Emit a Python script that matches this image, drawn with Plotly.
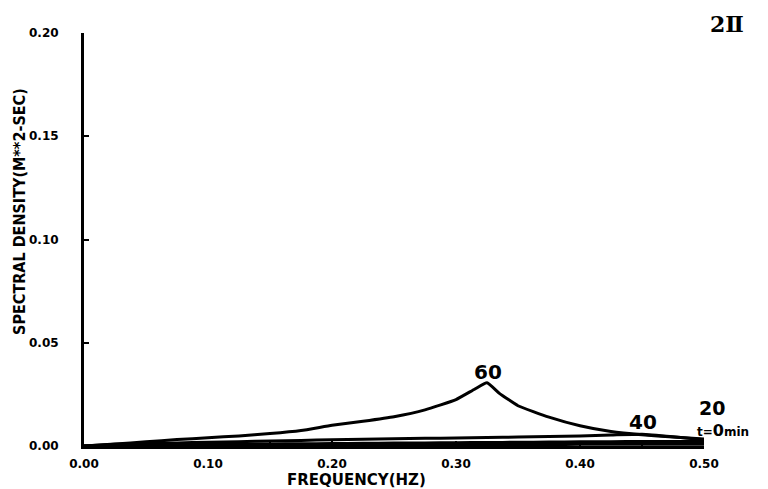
import plotly.graph_objects as go

freq60 = [0.000, 0.025, 0.050, 0.075, 0.100, 0.125, 0.150, 0.175, 0.200, 0.225, 0.250,
          0.275, 0.300, 0.315, 0.325, 0.335, 0.350, 0.375, 0.400, 0.425, 0.450, 0.475, 0.500]
s60 = [0.0000, 0.0010, 0.0020, 0.0031, 0.0040, 0.0049, 0.0060, 0.0075, 0.0100, 0.0120, 0.0142,
       0.0175, 0.0225, 0.0275, 0.0306, 0.0255, 0.0195, 0.0140, 0.0098, 0.0070, 0.0054, 0.0043, 0.0034]

freq = [0.000, 0.025, 0.050, 0.075, 0.100, 0.125, 0.150, 0.175, 0.200, 0.225, 0.250,
        0.275, 0.300, 0.325, 0.350, 0.375, 0.400, 0.425, 0.450, 0.475, 0.500]
s40 = [0.0000, 0.0008, 0.0012, 0.0015, 0.0018, 0.0021, 0.0024, 0.0027, 0.0030, 0.0033, 0.0035,
       0.0037, 0.0039, 0.0041, 0.0043, 0.0046, 0.0049, 0.0053, 0.0057, 0.0045, 0.0030]
s20 = [0.0000, 0.0004, 0.0006, 0.0007, 0.0008, 0.0009, 0.0010, 0.0011, 0.0012, 0.0013, 0.0014,
       0.0015, 0.0016, 0.0017, 0.0018, 0.0019, 0.0020, 0.0021, 0.0022, 0.0022, 0.0022]
s0 = [0.0000, 0.0002, 0.0003, 0.0003, 0.0004, 0.0004, 0.0004, 0.0005, 0.0005, 0.0005, 0.0006,
      0.0006, 0.0006, 0.0007, 0.0007, 0.0007, 0.0008, 0.0008, 0.0008, 0.0008, 0.0008]

series = [("60", freq60, s60), ("40", freq, s40), ("20", freq, s20), ("t=0min", freq, s0)]

x_ticks = [0.0, 0.1, 0.2, 0.3, 0.4, 0.5]
x_ticklabels = ["0.00", "0.10", "0.20", "0.30", "0.40", "0.50"]
y_ticks = [0.0, 0.05, 0.10, 0.15, 0.20]
y_ticklabels = ["0.00", "0.05", "0.10", "0.15", "0.20"]

fig = go.Figure()
for name, xs, vals in series:
    fig.add_trace(go.Scatter(x=xs, y=vals, mode="lines", name=name,
                             line=dict(color="black", width=3, shape="spline", smoothing=0.4),
                             showlegend=False))

tickfont = dict(family="DejaVu Sans", size=12, color="black")
fig.update_xaxes(range=[0, 0.5], tickvals=x_ticks, ticktext=[f"<b>{t}</b>" for t in x_ticklabels],
                 showline=True, linecolor="black", linewidth=3, ticks="inside", ticklen=5,
                 tickwidth=2, tickcolor="black", showgrid=False, zeroline=False,
                 minor=dict(tickvals=[0.05, 0.15, 0.25, 0.35, 0.45], ticks="inside", ticklen=4,
                            tickwidth=2, tickcolor="black"),
                 tickfont=tickfont, ticklabelstandoff=5, automargin=False)
fig.update_yaxes(range=[0, 0.2], tickvals=y_ticks, ticktext=[f"<b>{t}</b>" for t in y_ticklabels],
                 showline=True, linecolor="black", linewidth=3, ticks="inside", ticklen=5,
                 tickwidth=2, tickcolor="black", showgrid=False, zeroline=False,
                 tickfont=tickfont, ticklabelstandoff=20, automargin=False)

labfont = dict(family="DejaVu Sans", size=20, color="black")
fig.add_annotation(x=0.3255, y=0.0306, text="<b>60</b>", showarrow=False, xanchor="center",
                   yanchor="bottom", yshift=-3, font=labfont)
fig.add_annotation(xref="paper", yref="paper", x=0.902, y=0.058, text="<b>40</b>", showarrow=False,
                   xanchor="center", yanchor="middle", font=labfont)
fig.add_annotation(xref="paper", yref="paper", x=1.013, y=0.087, text="<b>20</b>", showarrow=False,
                   xanchor="center", yanchor="bottom", yshift=-11, font=dict(family="DejaVu Sans", size=19, color="black"))
fig.add_annotation(xref="paper", yref="paper", x=1.030, y=0.043,
                   text="<b>t=<span style='font-size:16px'>0</span>min</b>", showarrow=False,
                   xanchor="center", yanchor="top", yshift=9, font=dict(family="DejaVu Sans", size=12, color="black"))

fig.add_annotation(xref="paper", yref="paper", x=0.439, y=-0.082, text="<b>FREQUENCY(HZ)</b>",
                   showarrow=False, xanchor="center", yanchor="middle",
                   font=dict(family="DejaVu Sans", size=15, color="black"))
fig.add_annotation(xref="paper", yref="paper", x=-0.105, y=0.569, text="<b>SPECTRAL DENSITY(M**2-SEC)</b>",
                   showarrow=False, textangle=-90, yanchor="middle", xanchor="center",
                   font=dict(family="DejaVu Sans Condensed", size=16, color="black"))
fig.add_annotation(xref="paper", yref="paper", x=1.037, y=1.058, text="<b>2Ⅱ</b>", showarrow=False,
                   xanchor="center", yanchor="top", font=dict(family="DejaVu Serif", size=22, color="black"))

fig.update_layout(width=760, height=481, margin=dict(l=76, r=64, t=25, b=43),
                  plot_bgcolor="white", paper_bgcolor="white")
fig.write_html("out.html")
